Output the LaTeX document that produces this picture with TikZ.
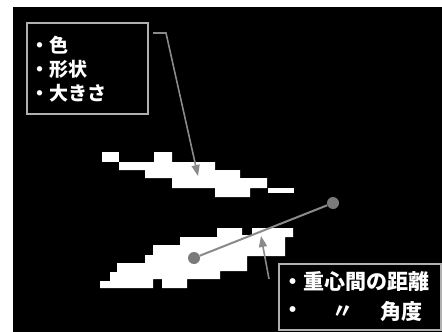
\documentclass[tikz,border=0pt]{standalone}
\usepackage{fontspec}
\newfontfamily\jp{Noto Sans CJK JP}
\usetikzlibrary{arrows.meta}
\definecolor{frame}{HTML}{B0B0B0}
\definecolor{conn}{HTML}{8A8A8A}
\definecolor{dot}{HTML}{7A7A7A}
\tikzset{
  infobox/.style={draw=frame, line width=1.8pt, fill=black, inner sep=0pt, anchor=north west},
  txt/.style={text=white, inner sep=0pt, anchor=west, font=\jp\bfseries\fontsize{19pt}{22pt}\selectfont},
  txtb/.style={text=white, inner sep=0pt, anchor=west, font=\jp\bfseries\fontsize{21pt}{24pt}\selectfont},
  connline/.style={draw=conn, line width=1.6pt, -{Triangle[length=11pt,width=8pt]}},
  cline/.style={draw=conn, line width=2pt},
  cdot/.style={circle, fill=dot, minimum size=12pt, inner sep=0pt},
  blob/.style={fill=white, draw=none}
}
\begin{document}
\begin{tikzpicture}[x=1pt,y=-1pt]
\useasboundingbox (0,0) rectangle (442,332);
\fill[white] (0,0) rectangle (442,332);
\fill[black] (13,7) rectangle (442,332);

% upper blob
\fill[blob] (119,162) -- (154,162) -- (154,152) -- (172,152) -- (172,162) -- (215,162)
  -- (215,170) -- (240,170) -- (240,178) -- (267,178) -- (267,188) -- (250,188)
  -- (250,197) -- (215,197) -- (215,188) -- (172,188) -- (172,178) -- (145,178)
  -- (145,170) -- (119,170) -- cycle;
\fill[blob] (102,152) rectangle (119,162);
\fill[blob] (268,188) rectangle (294,193);

% lower blob
\fill[blob] (100,281) -- (110,281) -- (110,272) -- (117,272) -- (117,263) -- (145,263)
  -- (145,255) -- (153,255) -- (153,245) -- (180,245) -- (180,237) -- (217,237)
  -- (217,228) -- (242,228) -- (242,235) -- (252,235) -- (252,228) -- (293,228)
  -- (293,237) -- (285,237) -- (285,256) -- (247,256) -- (247,271) -- (220,271)
  -- (220,279) -- (187,279) -- (187,288) -- (162,288) -- (162,279) -- (153,279)
  -- (153,288) -- (100,288) -- cycle;

% box 1
\node[infobox, minimum width=121pt, minimum height=91pt] (b1) at (26,22) {};
\node[txt] (t1) at (30,45) {・色};
\node[txt] (t2) at (30,69) {・形状};
\node[txt] (t3) at (30,93) {・大きさ};

% box 2
\node[infobox, minimum width=162pt, minimum height=66pt] (b2) at (278,263) {};
\node[txtb] (t4) at (282,282) {・重心間の距離};
\node[txtb] (t5) at (282,312) {・};
\node[txtb] (t6) at (332,312) {〃};
\node[txtb] (t7) at (380,312) {角度};

% connector from box 1 to upper blob
\coordinate (c1s) at (153,33);
\coordinate (c1m) at (166,33);
\coordinate (c1e) at (198,176);
\draw[connline] (c1s) -- (c1m) -- (c1e);

% connector from box 2 to centroid line
\coordinate (c2s) at (269,279);
\coordinate (c2e) at (261,236);
\draw[connline] (c2s) -- (c2e);

% centroid line
\node[cdot] (g1) at (194,258) {};
\node[cdot] (g2) at (333,203) {};
\draw[cline] (g1) -- (g2);
\end{tikzpicture}
\end{document}
